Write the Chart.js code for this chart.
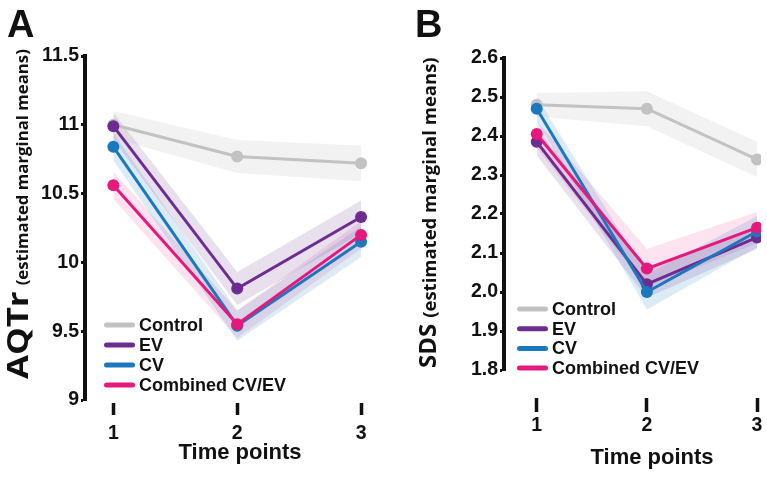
<!DOCTYPE html>
<html>
<head>
<meta charset="utf-8">
<script src="https://cdn.jsdelivr.net/npm/chart.js@4"></script>
<style>
  body { margin: 0; background: #fff; }
  #wrap { position: relative; width: 767px; height: 484px; overflow: hidden; }
  canvas { position: absolute; top: 0; }
  #chartA { left: 0; }
  #chartB { left: 390px; }
</style>
</head>
<body>
<div id="wrap">
  <canvas id="chartA" width="390" height="484"></canvas>
  <canvas id="chartB" width="377" height="484"></canvas>
</div>
<script>
// data
const timePoints = [1, 2, 3];
const timeLabels = ['1', '2', '3'];
const groups = ['Control', 'EV', 'CV', 'Combined CV/EV'];

const aqtrControl = [11.00, 10.77, 10.72];
const aqtrEV = [10.99, 9.81, 10.33];
const aqtrCV = [10.84, 9.54, 10.15];
const aqtrCombined = [10.56, 9.55, 10.20];
// half width of the shaded bands
const aqtrControlSE = [0.10, 0.12, 0.13];
const aqtrEVSE = [0.10, 0.12, 0.12];
const aqtrCVSE = [0.10, 0.11, 0.11];
const aqtrCombinedSE = [0.10, 0.10, 0.10];
const aqtrTicks = [9, 9.5, 10, 10.5, 11, 11.5];
const aqtrTickLabels = ['9', '9.5', '10', '10.5', '11', '11.5'];

const sdsControl = [2.48, 2.47, 2.34];
const sdsEV = [2.385, 2.02, 2.14];
const sdsCV = [2.47, 2.00, 2.155];
const sdsCombined = [2.405, 2.06, 2.165];
const sdsControlSE = [0.03, 0.045, 0.045];
const sdsEVSE = [0.035, 0.035, 0.03];
const sdsCVSE = [0.03, 0.045, 0.04];
const sdsCombinedSE = [0.035, 0.05, 0.04];
const sdsTicks = [1.8, 1.9, 2.0, 2.1, 2.2, 2.3, 2.4, 2.5, 2.6];
const sdsTickLabels = ['1.8', '1.9', '2.0', '2.1', '2.2', '2.3', '2.4', '2.5', '2.6'];

const xTitle = 'Time points';
const ySub = '(estimated marginal means)';

const lineColors = ['#c2c2c2', '#6d2d90', '#1b78bf', '#e6187c'];
const bandColors = ['rgba(190,190,190,0.2)', 'rgba(109,45,144,0.15)', 'rgba(27,120,191,0.15)', 'rgba(230,24,124,0.12)'];
const ink = '#111';

function buildDatasets(means, ses) {
  const sets = [];
  means.forEach((m, g) => {
    sets.push({
      data: timePoints.map((t, i) => ({ x: t, y: m[i] + ses[g][i] })),
      pointRadius: 0, borderWidth: 0, fill: false, order: 10
    });
    sets.push({
      data: timePoints.map((t, i) => ({ x: t, y: m[i] - ses[g][i] })),
      pointRadius: 0, borderWidth: 0, fill: '-1', backgroundColor: bandColors[g], order: 10
    });
  });
  means.forEach((m, g) => {
    sets.push({
      label: groups[g],
      data: timePoints.map((t, i) => ({ x: t, y: m[i] })),
      borderColor: lineColors[g],
      backgroundColor: lineColors[g],
      pointBackgroundColor: lineColors[g],
      pointBorderWidth: 0,
      pointRadius: 6,
      borderWidth: 3,
      fill: false,
      order: 4 - g
    });
  });
  return sets;
}

// panel letter, axis titles (mixed font sizes) and the inset legend
const panelDecor = {
  id: 'panelDecor',
  afterDraw(chart, args, o) {
    const ctx = chart.ctx;
    ctx.save();
    ctx.fillStyle = ink;
    ctx.textBaseline = 'alphabetic';
    ctx.textAlign = 'left';
    ctx.font = 'bold 38px "Liberation Sans"';
    ctx.fillText(o.letter, o.letterX, o.letterY);

    ctx.textAlign = 'center';
    ctx.font = 'bold 22px "Liberation Sans"';
    ctx.fillText(xTitle, o.xTitleX, o.xTitleY);

    ctx.save();
    ctx.translate(o.yTitleX, o.yTitleY);
    ctx.rotate(-Math.PI / 2);
    ctx.textAlign = 'left';
    ctx.font = 'bold ' + o.mainSize + 'px "Open Sans"';
    const w = ctx.measureText(o.yMain).width * o.stretch + o.gap;
    ctx.save();
    ctx.scale(o.stretch, 1);
    ctx.fillText(o.yMain, 0, 0);
    ctx.restore();
    ctx.font = 'bold ' + o.subSize + 'px "Open Sans"';
    ctx.fillText(ySub, w, 0);
    ctx.restore();

    ctx.textAlign = 'left';
    ctx.textBaseline = 'middle';
    ctx.font = 'bold 18px "Liberation Sans"';
    ctx.lineCap = 'round';
    ctx.lineWidth = 5;
    chart.data.datasets.filter(d => d.label).forEach((d, i) => {
      const y = o.legendY + i * o.legendStep;
      ctx.strokeStyle = d.borderColor;
      ctx.beginPath();
      ctx.moveTo(o.legendX + 2.5, y);
      ctx.lineTo(o.legendX + 28.5, y);
      ctx.stroke();
      ctx.fillText(d.label, o.legendX + 35, y + 1);
    });
    ctx.restore();
  }
};

function makeChart(id, means, ses, yTicks, yLabels, geo, decor) {
  const tickFont = { family: 'Liberation Sans', weight: 'bold', size: 19.5 };
  return new Chart(document.getElementById(id), {
    type: 'line',
    data: { datasets: buildDatasets(means, ses) },
    plugins: [panelDecor],
    options: {
      responsive: false,
      animation: false,
      layout: { padding: { top: geo.top, right: geo.right, left: 0, bottom: 0 } },
      plugins: {
        legend: { display: false },
        tooltip: { enabled: false },
        panelDecor: decor
      },
      scales: {
        x: {
          type: 'linear',
          min: geo.xMin,
          max: geo.xMax,
          afterBuildTicks: s => { s.ticks = timePoints.map(v => ({ value: v })); },
          afterFit: s => { s.height = geo.xHeight; },
          border: { display: false },
          grid: {
            drawOnChartArea: false,
            tickLength: geo.tickGap + geo.tickLen,
            tickWidth: 3.5,
            tickColor: ink,
            tickBorderDash: [0, geo.tickGap, geo.tickLen, 200]
          },
          ticks: {
            color: ink,
            font: tickFont,
            padding: geo.xPad,
            callback: (v, i) => timeLabels[i]
          }
        },
        y: {
          min: yTicks[0],
          max: yTicks[yTicks.length - 1],
          afterBuildTicks: s => { s.ticks = yTicks.map(v => ({ value: v })); },
          afterFit: s => { s.width = geo.yWidth; },
          border: { display: true, width: 4, color: ink },
          grid: { drawOnChartArea: false, tickLength: 4, tickWidth: 3, tickColor: ink },
          ticks: {
            color: ink,
            font: tickFont,
            padding: 2,
            callback: (v, i) => yLabels[i]
          }
        }
      }
    }
  });
}

makeChart('chartA',
  [aqtrControl, aqtrEV, aqtrCV, aqtrCombined],
  [aqtrControlSE, aqtrEVSE, aqtrCVSE, aqtrCombinedSE],
  aqtrTicks, aqtrTickLabels,
  { top: 56, right: 5, yWidth: 85, xHeight: 84, xMin: 0.771, xMax: 3.185,
    tickGap: 3, tickLen: 12, xPad: 7 },
  { letter: 'A', letterX: 7, letterY: 37, xTitleX: 240, xTitleY: 459,
    yMain: 'AQTr', mainSize: 29, stretch: 1.2, subSize: 16.8, gap: 6, yTitleX: 28, yTitleY: 379,
    legendX: 104, legendY: 325, legendStep: 20 });

makeChart('chartB',
  [sdsControl, sdsEV, sdsCV, sdsCombined],
  [sdsControlSE, sdsEVSE, sdsCVSE, sdsCombinedSE],
  sdsTicks, sdsTickLabels,
  { top: 58, right: 4, yWidth: 114, xHeight: 114, xMin: 0.703, xMax: 3.036,
    tickGap: 28, tickLen: 14, xPad: 2 },
  { letter: 'B', letterX: 25, letterY: 37, xTitleX: 262, xTitleY: 464,
    yMain: 'SDS', mainSize: 24, stretch: 1, subSize: 18.5, gap: 6, yTitleX: 46, yTitleY: 368,
    legendX: 127, legendY: 309, legendStep: 19.7 });
</script>
</body>
</html>
